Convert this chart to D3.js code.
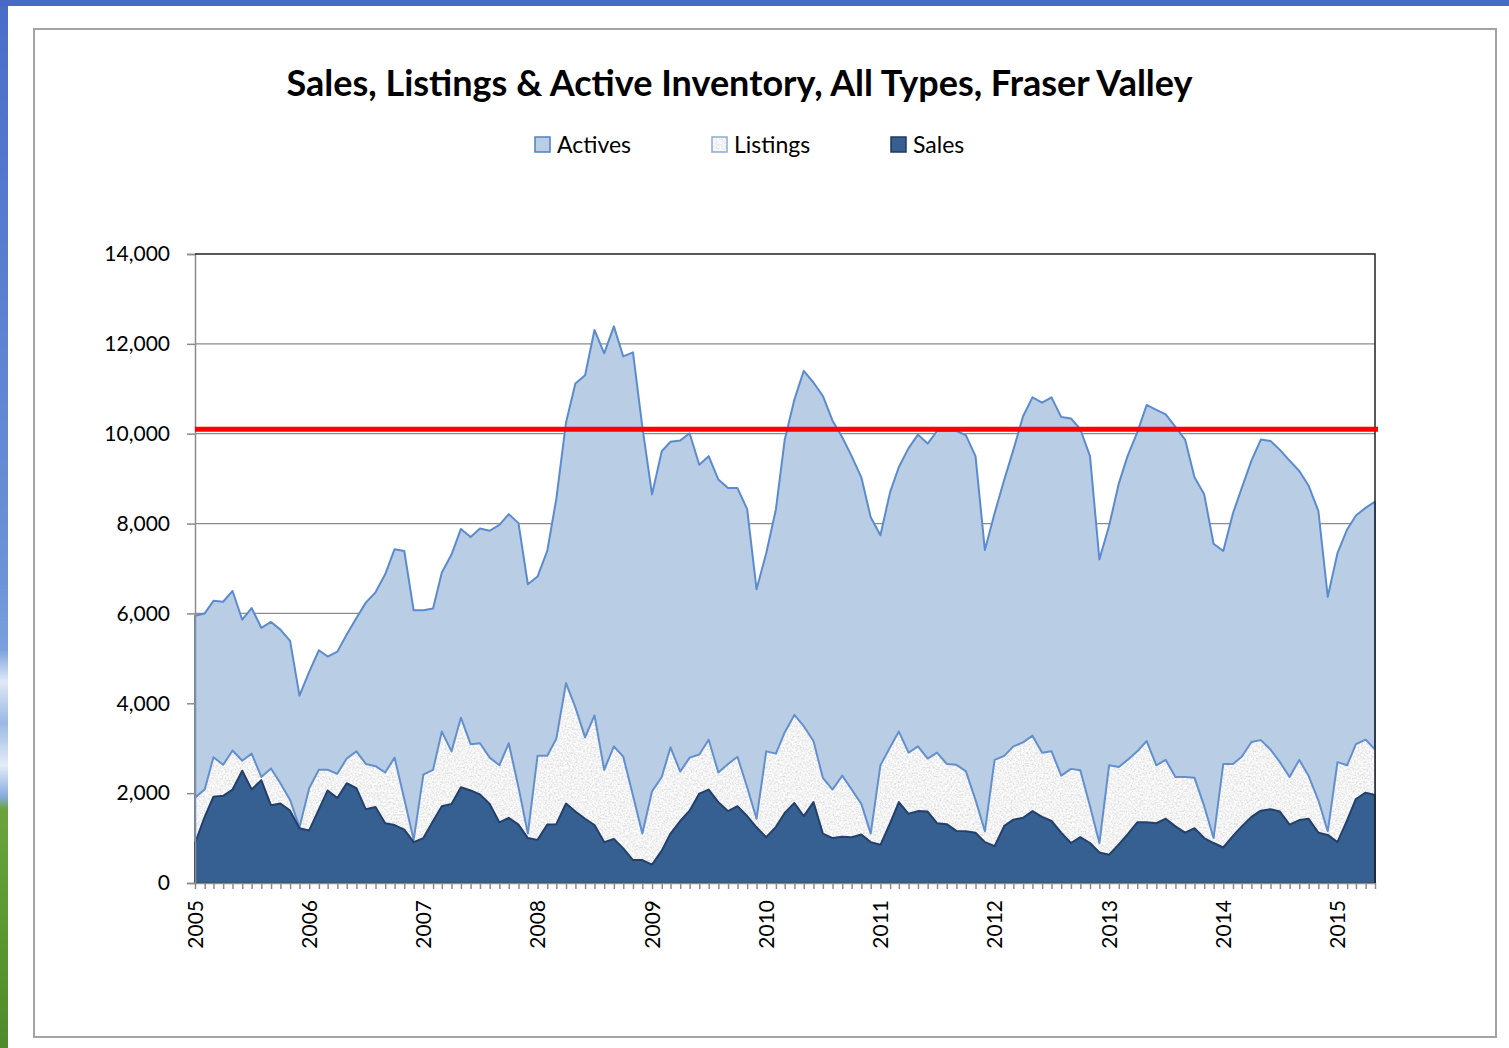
<!DOCTYPE html>
<html>
<head>
<meta charset="utf-8">
<script src="https://cdn.jsdelivr.net/npm/d3@7"></script>
<style>
  html, body { margin: 0; padding: 0; background: #fff; }
  svg { display: block; }
</style>
</head>
<body>
<svg id="chart" width="1509" height="1048"></svg>
<script>
// Monthly values, Jan 2005 .. May 2015
const firstMonth = new Date(2005, 0, 1);
const actives = [
  5950, 6000, 6280, 6260, 6500, 5860, 6120, 5680, 5810, 5640, 5390, 4170,
  4700, 5180, 5040, 5150, 5530, 5900, 6240, 6470, 6870, 7430, 7390, 6070,
  6070, 6110, 6910, 7310, 7880, 7700, 7890, 7840, 7970, 8210, 8010, 6650,
  6820, 7390, 8550, 10250, 11120, 11300, 12310, 11790, 12390, 11720, 11810, 10150,
  8650, 9610, 9820, 9850, 10010, 9310, 9500, 8980, 8790, 8790, 8320, 6540,
  7340, 8320, 9860, 10760, 11400, 11140, 10840, 10290, 9920, 9500, 9030, 8140,
  7740, 8700, 9260, 9680, 9980, 9780, 10060, 10060, 10060, 9970, 9500, 7410,
  8230, 8980, 9640, 10390, 10810, 10690, 10810, 10370, 10340, 10100, 9500, 7200,
  7950, 8890, 9500, 10030, 10640, 10530, 10430, 10150, 9870, 9030, 8650, 7550,
  7390, 8230, 8790, 9400, 9870, 9840, 9640, 9400, 9170, 8840, 8280, 6370,
  7340, 7870, 8180, 8350, 8490
];
const listings = [
  1900, 2080, 2800, 2630, 2950, 2720, 2880, 2360, 2550, 2220, 1850, 1240,
  2110, 2520, 2520, 2430, 2770, 2930, 2650, 2600, 2460, 2790, 1870, 960,
  2410, 2520, 3370, 2930, 3680, 3090, 3110, 2790, 2620, 3110, 2130, 1100,
  2830, 2830, 3210, 4450, 3910, 3240, 3730, 2520, 3040, 2810, 1950, 1100,
  2040, 2360, 3020, 2480, 2790, 2860, 3190, 2460, 2650, 2810, 2130, 1430,
  2930, 2880, 3350, 3740, 3490, 3160, 2340, 2080, 2390, 2080, 1760, 1100,
  2620, 3020, 3370, 2900, 3040, 2770, 2900, 2650, 2630, 2490, 1850, 1150,
  2740, 2830, 3040, 3130, 3280, 2900, 2930, 2390, 2540, 2510, 1710, 890,
  2620, 2580, 2740, 2930, 3160, 2620, 2740, 2360, 2360, 2340, 1710, 1000,
  2650, 2650, 2810, 3140, 3180, 2970, 2690, 2360, 2740, 2380, 1840, 1150,
  2690, 2620, 3090, 3190, 2970
];
const sales = [
  890, 1470, 1920, 1940, 2080, 2500, 2080, 2290, 1730, 1770, 1610, 1220,
  1170, 1640, 2060, 1890, 2220, 2110, 1640, 1690, 1330, 1290, 1190, 910,
  1000, 1380, 1710, 1760, 2130, 2060, 1970, 1760, 1350, 1450, 1300, 1000,
  960, 1300, 1310, 1770, 1590, 1430, 1290, 910, 980, 770, 510, 510,
  410, 720, 1100, 1380, 1610, 1990, 2080, 1800, 1600, 1710, 1490, 1240,
  1020, 1250, 1560, 1780, 1490, 1800, 1100, 1000, 1030, 1020, 1080, 910,
  850, 1330, 1800, 1540, 1600, 1590, 1330, 1310, 1160, 1150, 1120, 910,
  820, 1270, 1410, 1450, 1600, 1470, 1380, 1120, 890, 1020, 890, 680,
  630, 860, 1080, 1350, 1350, 1330, 1430, 1260, 1120, 1220, 1000, 890,
  790, 1050, 1260, 1470, 1610, 1640, 1590, 1300, 1400, 1430, 1120, 1070,
  910, 1400, 1870, 2010, 1960
];
const yTicks = [0, 2000, 4000, 6000, 8000, 10000, 12000, 14000];
const yearLabels = [2005, 2006, 2007, 2008, 2009, 2010, 2011, 2012, 2013, 2014, 2015];
const thresholdValue = 10100;
const seriesNames = ["Actives", "Listings", "Sales"];

const months = actives.map((_, i) => d3.timeMonth.offset(firstMonth, i));
const font = "Lato, 'Open Sans', sans-serif";

const svg = d3.select("#chart");
const defs = svg.append("defs");

// slide background strip on the left (sky, clouds, grass)
const bg = defs.append("linearGradient").attr("id", "sky")
  .attr("x1", 0).attr("y1", 0).attr("x2", 0).attr("y2", 1);
[[0, "#4a6cc9"], [0.55, "#6a93d8"], [0.62, "#7aa0dc"], [0.65, "#dfe9f6"], [0.69, "#9bb8e3"],
 [0.73, "#e4edf8"], [0.76, "#86abdf"], [0.772, "#6aa33c"], [0.88, "#5a9a30"], [1, "#4f8a2b"]]
  .forEach(([o, c]) => bg.append("stop").attr("offset", o).attr("stop-color", c));

svg.append("rect").attr("x", 0).attr("y", 0).attr("width", 8).attr("height", 1048).attr("fill", "url(#sky)");
svg.append("rect").attr("x", 0).attr("y", 0).attr("width", 1509).attr("height", 6).attr("fill", "#4a69c7");

// chart frame
svg.append("rect")
  .attr("x", 34).attr("y", 29).attr("width", 1462).attr("height", 1008)
  .attr("fill", "#fff").attr("stroke", "#a3a3a3").attr("stroke-width", 2);

// granite texture for Listings
const granite = defs.append("filter").attr("id", "granite")
  .attr("x", 0).attr("y", 0).attr("width", 1).attr("height", 1);
granite.append("feTurbulence").attr("type", "fractalNoise")
  .attr("baseFrequency", 0.55).attr("numOctaves", 3).attr("seed", 7).attr("result", "noise");
granite.append("feColorMatrix").attr("type", "matrix")
  .attr("values", "0.55 0 0 0 0.62  0.55 0 0 0 0.62  0.55 0 0 0 0.62  0 0 0 0 1");

// scales
const margin = { left: 195, right: 1375, top: 254, bottom: 883 };
const x = d3.scaleTime().domain([months[0], months[months.length - 1]]).range([margin.left, margin.right]);
const y = d3.scaleLinear().domain([0, 14000]).range([margin.bottom, margin.top]);

// title and legend
svg.append("text")
  .attr("x", 739.5).attr("y", 96)
  .attr("text-anchor", "middle")
  .style("font-family", font).style("font-weight", 700).style("font-size", "36px")
  .text("Sales, Listings & Active Inventory, All Types, Fraser Valley");

const legendX = [535, 712, 891];
const legendFill = ["#b9cde5", "url(#legendGranite)", "#376092"];
const legendStroke = ["#4f81bd", "#8eaad2", "#1f3a5f"];
const lg = defs.append("pattern").attr("id", "legendGranite")
  .attr("patternUnits", "userSpaceOnUse").attr("width", 15).attr("height", 15);
lg.append("rect").attr("width", 15).attr("height", 15).attr("filter", "url(#granite)");

seriesNames.forEach((name, i) => {
  svg.append("rect")
    .attr("x", legendX[i]).attr("y", 137).attr("width", 15).attr("height", 15)
    .attr("fill", legendFill[i]).attr("stroke", legendStroke[i]).attr("stroke-width", 1.5);
  svg.append("text")
    .attr("x", legendX[i] + 22).attr("y", 153)
    .style("font-family", font).style("font-size", "23px").attr("fill", "#000")
    .text(name);
});

// gridlines
svg.append("g")
  .selectAll("line")
  .data(yTicks.filter(d => d > 0 && d < 14000))
  .join("line")
  .attr("x1", margin.left).attr("x2", margin.right)
  .attr("y1", d => y(d)).attr("y2", d => y(d))
  .attr("stroke", "#8c8c8c").attr("stroke-width", 1.2);

// areas
const area = values => d3.area()
  .x((d, i) => x(months[i]))
  .y0(y(0))
  .y1(d => y(d))(values);
const topLine = values => d3.line()
  .x((d, i) => x(months[i]))
  .y(d => y(d))(values);

svg.append("path")
  .attr("d", area(actives))
  .attr("fill", "#b9cde5")
  .attr("stroke", "#5b8bcf").attr("stroke-width", 2).attr("stroke-linejoin", "round");

defs.append("clipPath").attr("id", "listClip")
  .append("path").attr("d", area(listings));
svg.append("rect")
  .attr("x", margin.left).attr("y", margin.top)
  .attr("width", margin.right - margin.left).attr("height", margin.bottom - margin.top)
  .attr("filter", "url(#granite)")
  .attr("clip-path", "url(#listClip)");
svg.append("path")
  .attr("d", topLine(listings))
  .attr("fill", "none")
  .attr("stroke", "#6390cd").attr("stroke-width", 2).attr("stroke-linejoin", "round");

svg.append("path")
  .attr("d", area(sales))
  .attr("fill", "#376092")
  .attr("stroke", "#22406a").attr("stroke-width", 2).attr("stroke-linejoin", "round");

// axes
const yAxis = svg.append("g")
  .attr("transform", `translate(${margin.left},0)`)
  .call(d3.axisLeft(y).tickValues(yTicks).tickSize(8).tickPadding(17).tickFormat(d3.format(",")));
yAxis.select(".domain").attr("stroke", "#8c8c8c").attr("stroke-width", 1.5);
yAxis.selectAll(".tick line").attr("stroke", "#8c8c8c").attr("stroke-width", 1.5);
yAxis.selectAll("text")
  .style("font-family", font).style("font-size", "21px").attr("fill", "#000");

const xAxis = svg.append("g")
  .attr("transform", `translate(0,${margin.bottom})`)
  .call(d3.axisBottom(x).tickValues(months).tickSize(6).tickSizeOuter(0).tickFormat(""));
xAxis.select(".domain").attr("stroke", "#8c8c8c").attr("stroke-width", 1.5);
xAxis.selectAll(".tick line").attr("stroke", "#8c8c8c").attr("stroke-width", 1.5);

svg.append("g")
  .selectAll("text")
  .data(yearLabels)
  .join("text")
  .attr("transform", d => `translate(${x(new Date(d, 0, 1))},900) rotate(-90)`)
  .attr("text-anchor", "end")
  .attr("dy", "0.36em")
  .style("font-family", font).style("font-size", "21px").attr("fill", "#000")
  .text(d => d);

// plot border (top and right)
svg.append("path")
  .attr("d", `M${margin.left},${margin.top}H${margin.right}V${margin.bottom}`)
  .attr("fill", "none").attr("stroke", "#222").attr("stroke-width", 1.5);

// threshold line
svg.append("line")
  .attr("x1", margin.left).attr("x2", margin.right + 3)
  .attr("y1", y(thresholdValue)).attr("y2", y(thresholdValue))
  .attr("stroke", "#ff0000").attr("stroke-width", 5);
</script>
</body>
</html>
